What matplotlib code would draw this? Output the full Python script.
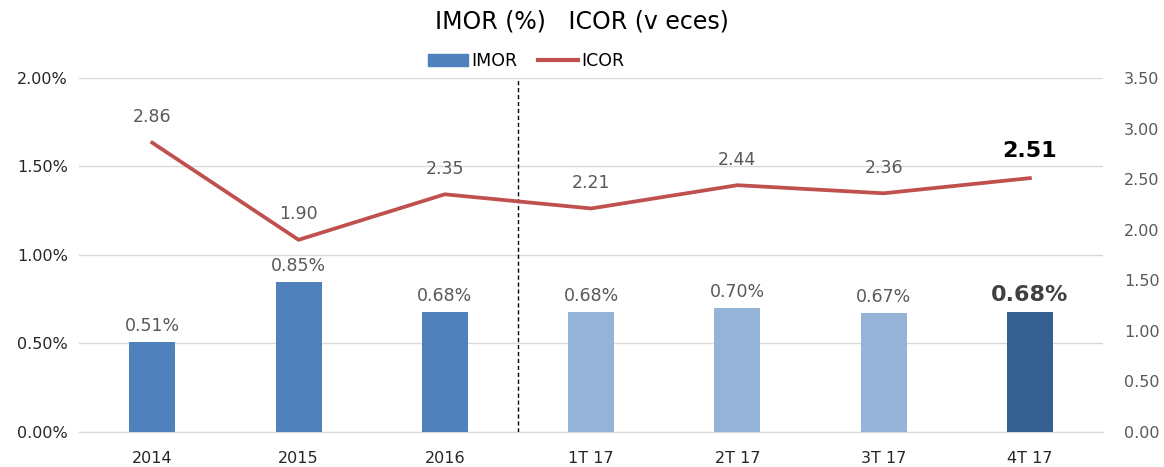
import matplotlib
matplotlib.use("Agg")
import matplotlib.pyplot as plt
from matplotlib.patches import Patch
from matplotlib.lines import Line2D
from matplotlib.ticker import FuncFormatter, MultipleLocator

categories = ["2014", "2015", "2016", "1T 17", "2T 17", "3T 17", "4T 17"]
imor = [0.51, 0.85, 0.68, 0.68, 0.70, 0.67, 0.68]
icor = [2.86, 1.90, 2.35, 2.21, 2.44, 2.36, 2.51]
bar_colors = ["#4F81BD", "#4F81BD", "#4F81BD", "#95B3D7", "#95B3D7", "#95B3D7", "#366092"]

plt.rcParams['font.family'] = ['DejaVu Sans']
fig = plt.figure(figsize=(11.64, 4.67), dpi=100)
ax = fig.add_axes([0.068, 0.075, 0.8796, 0.758])
ax2 = ax.twinx()

x = list(range(len(categories)))
ax.bar(x, imor, width=0.315, color=bar_colors, zorder=3)
ax.set_xlim(-0.5, len(categories) - 0.5)
ax.set_ylim(0, 2.0)
ax.yaxis.set_major_locator(MultipleLocator(0.5))
ax.yaxis.set_major_formatter(FuncFormatter(lambda v, p: f"{v:.2f}%"))
ax.grid(axis='y', color='#D9D9D9', linewidth=1, zorder=0)
ax.set_axisbelow(True)
ax.set_xticks(x)
ax.set_xticklabels(categories)

ax2.plot(x, icor, color="#C0504D", linewidth=2.7, zorder=4)
ax2.set_ylim(0, 3.5)
ax2.yaxis.set_major_locator(MultipleLocator(0.5))
ax2.yaxis.set_major_formatter(FuncFormatter(lambda v, p: f"{v:.2f}"))

for a in (ax, ax2):
    for s in a.spines.values():
        s.set_visible(False)
    a.tick_params(length=0, labelsize=11.5, colors='#595959')
ax.tick_params(axis='x', colors='#262626', pad=14)
ax.tick_params(axis='y', colors='#262626', pad=8)
ax2.tick_params(axis='y', pad=15)
ax.spines['bottom'].set_visible(True)
ax.spines['bottom'].set_color('#D9D9D9')

ax.axvline(2.5, color='black', linestyle=(0, (3, 2)), linewidth=1, zorder=5)

n = len(categories)
for i, v in enumerate(imor):
    last = i == n - 1
    ax.annotate(f"{v:.2f}%", (i, v), xytext=(0, 5), textcoords='offset points',
                ha='center', va='bottom',
                fontsize=16 if last else 12.5,
                fontweight='bold' if last else 'normal',
                color='#404040' if last else '#595959')
for i, v in enumerate(icor):
    last = i == n - 1
    ax2.annotate(f"{v:.2f}", (i, v), xytext=(0, 12), textcoords='offset points',
                 ha='center', va='bottom',
                 fontsize=16 if last else 12.5,
                 fontweight='bold' if last else 'normal',
                 color='#000000' if last else '#595959')

fig.text(0.5, 0.955, "IMOR (%)   ICOR (v eces)", ha='center', va='center', fontsize=17)
handles = [Patch(color="#4F81BD"), Line2D([0], [0], color="#C0504D", linewidth=3)]
fig.legend(handles, ["IMOR", "ICOR"], loc='center', bbox_to_anchor=(0.452, 0.87), ncol=2,
           frameon=False, fontsize=12.5, handlelength=2.3, handletextpad=0.2, columnspacing=1.2)

fig.savefig("out.png", dpi=100)
